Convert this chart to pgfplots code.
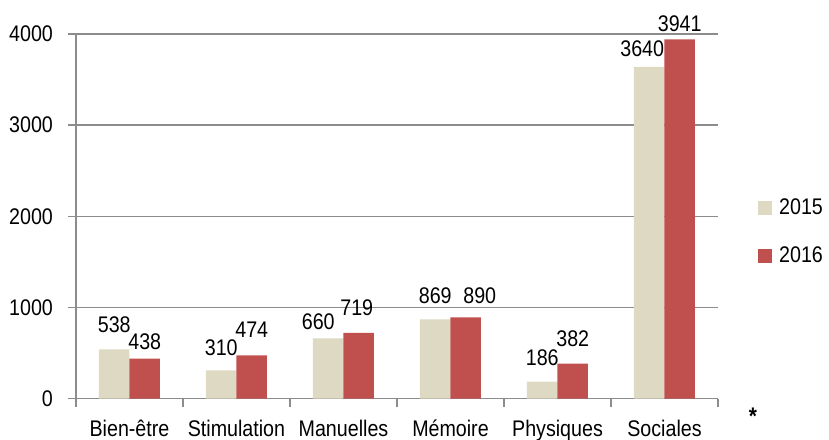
\documentclass[border=0pt]{standalone}
\usepackage{fontspec}
\setmainfont{Liberation Sans}[FakeStretch=0.87]
\usepackage{pgfplots}
\usepackage{pgfplotstable}
\pgfplotsset{compat=1.18}
\definecolor{cA}{HTML}{DDD9C3}
\definecolor{cB}{HTML}{C0504D}
\definecolor{gr}{HTML}{8C8C8C}
\newcommand\fs{\fontsize{11.3}{13.5}\selectfont}
\pgfplotstableread{
x y dx dy
0 538 0 8.25
1 310 0 7.5
2 660 -5 4.5
3 869 0 8
4 186 0 8
5 3640 -3.5 5
}\tA
\pgfplotstableread{
x y dx dy
0 438 0 4.3
1 474 0 9
2 719 -1 8.5
3 890 7 7
4 382 0 8.5
5 3941 0 4
}\tB
\pgfplotsset{lbl/.style={
  nodes near coords,
  visualization depends on={\thisrow{dx} \as \dx},
  visualization depends on={\thisrow{dy} \as \dy},
  every node near coord/.append style={font=\fs, anchor=base, xshift=\dx, yshift=\dy, text=black},
}}
\begin{document}
\begin{tikzpicture}[font=\fs]
\begin{axis}[
  at={(0,0)}, anchor=south west,
  width=321pt, height=182.25pt, scale only axis,
  xmin=-0.5, xmax=5.5, ymin=0, ymax=4000,
  ybar=0pt, bar width=15.25pt,
  clip=false,
  axis x line*=bottom, axis y line*=left,
  axis line style={gr, line width=0.75pt},
  xtick={-0.5,0.5,...,5.5},
  x tick label as interval,
  xticklabels={Bien-être,Stimulation,Manuelles,Mémoire,Physiques,Sociales},
  ytick={0,1000,...,4000},
  ymajorgrids, grid style={gr, line width=0.75pt},
  tick align=outside, major tick length=4pt,
  tick style={gr, line width=0.75pt},
  scaled y ticks=false,
  /pgf/number format/1000 sep={},
  /pgf/number format/assume math mode=true,
  tick label style={font=\fs},
  yticklabel style={xshift=-4pt},
  xticklabel style={anchor=base, yshift=-15pt},
  legend style={draw=none, fill=none, at={(1.062,0.457)}, anchor=west,
    font=\fs, inner sep=0pt, nodes={inner sep=1.5pt}, row sep=11.5pt},
  legend cell align=left,
  legend image code/.code={\fill[#1] (0.5pt,-3.5pt) rectangle (7.5pt,3.5pt);},
]
\addplot[fill=cA, draw=none, lbl] table[x=x, y=y, meta=y] {\tA};
\addlegendentry{\hspace{2pt}2015}
\addplot[fill=cB, draw=none, lbl] table[x=x, y=y, meta=y] {\tB};
\addlegendentry{\hspace{2pt}2016}
\node[anchor=base, font=\fontsize{12}{14}\selectfont\bfseries] at (rel axis cs:1.0545,-0.072) {*};
\end{axis}
\pgfresetboundingbox
\path[use as bounding box] (-38pt,-20.25pt) rectangle (376.5pt,199.25pt);
\end{tikzpicture}
\end{document}
